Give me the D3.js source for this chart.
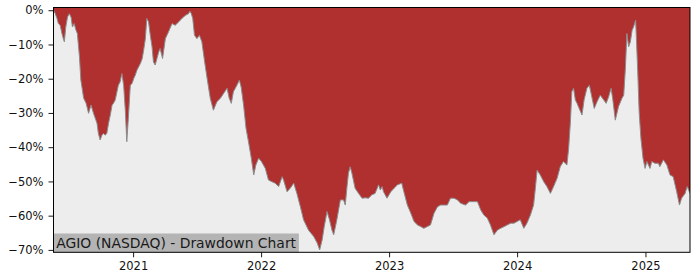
<!DOCTYPE html>
<html>
<head>
<meta charset="utf-8">
<script src="https://cdn.jsdelivr.net/npm/d3@7"></script>
<style>
  body { margin: 0; background: #fff; }
  svg { display: block; font-family: "DejaVu Sans", sans-serif; }
</style>
</head>
<body>
<svg id="chart" width="700" height="280"></svg>
<script>
const title = "AGIO (NASDAQ) - Drawdown Chart";

// drawdown from running peak, in percent
const dates = [
  "2020-05-19","2020-05-24","2020-05-29","2020-06-02","2020-06-07","2020-06-12","2020-06-17","2020-06-19",
  "2020-06-23","2020-06-28","2020-07-03","2020-07-08","2020-07-12","2020-07-17","2020-07-22","2020-07-26",
  "2020-08-01","2020-08-05","2020-08-13","2020-08-20","2020-08-27","2020-09-03","2020-09-10","2020-09-20",
  "2020-09-24","2020-09-29","2020-10-04","2020-10-09","2020-10-13","2020-10-18","2020-10-23","2020-10-28",
  "2020-11-02","2020-11-06","2020-11-11","2020-11-16","2020-11-20","2020-11-25","2020-11-30","2020-12-05",
  "2020-12-10","2020-12-14","2020-12-19","2020-12-24","2020-12-29",
  "2021-01-03","2021-01-07","2021-01-12","2021-01-17","2021-01-22","2021-01-27","2021-01-31","2021-02-05",
  "2021-02-09","2021-02-14","2021-02-19","2021-02-24","2021-02-28","2021-03-05","2021-03-15","2021-03-19",
  "2021-03-26","2021-04-03","2021-04-12","2021-04-22","2021-05-01","2021-05-11","2021-05-20","2021-05-30",
  "2021-06-08","2021-06-12","2021-06-16","2021-06-20","2021-06-25","2021-07-02","2021-07-09","2021-07-16",
  "2021-07-24","2021-07-31","2021-08-09","2021-08-18","2021-08-28","2021-09-07","2021-09-16","2021-09-26",
  "2021-10-02","2021-10-08","2021-10-14","2021-10-24","2021-10-31","2021-11-05","2021-11-12","2021-11-19",
  "2021-11-26","2021-12-04","2021-12-11","2021-12-17","2021-12-25",
  "2022-01-02","2022-01-13","2022-01-22","2022-02-01","2022-02-10","2022-02-20","2022-03-02","2022-03-06",
  "2022-03-16","2022-03-25","2022-04-04","2022-04-13","2022-04-23","2022-05-02","2022-05-16","2022-05-31",
  "2022-06-10","2022-06-17","2022-06-24","2022-06-30","2022-07-08","2022-07-15","2022-07-22","2022-07-27",
  "2022-08-05","2022-08-15","2022-08-24","2022-08-29","2022-09-03","2022-09-07","2022-09-12","2022-09-17",
  "2022-09-26","2022-10-06","2022-10-16","2022-10-25","2022-11-03","2022-11-13","2022-11-22","2022-12-02",
  "2022-12-07","2022-12-12","2022-12-16","2022-12-26",
  "2023-01-06","2023-01-15","2023-01-25","2023-02-06","2023-02-12","2023-02-22","2023-03-04","2023-03-13",
  "2023-03-23","2023-04-01","2023-04-10","2023-04-20","2023-04-29","2023-05-09","2023-05-19","2023-05-28",
  "2023-06-06","2023-06-16","2023-06-25","2023-07-05","2023-07-15","2023-07-24","2023-08-07","2023-08-17",
  "2023-08-27","2023-09-10","2023-09-19","2023-09-28","2023-10-08","2023-10-17","2023-10-27","2023-11-06",
  "2023-11-15","2023-11-25","2023-12-04","2023-12-14","2023-12-23",
  "2024-01-01","2024-01-10","2024-01-20","2024-01-29","2024-02-08","2024-02-17","2024-02-22","2024-02-27",
  "2024-03-07","2024-03-17","2024-03-26","2024-04-05","2024-04-14","2024-04-24","2024-05-03","2024-05-12",
  "2024-05-22","2024-05-27","2024-06-01","2024-06-05","2024-06-10","2024-06-15","2024-06-20","2024-06-24",
  "2024-07-04","2024-07-10","2024-07-18","2024-07-25","2024-08-01","2024-08-08","2024-08-16","2024-08-25",
  "2024-09-04","2024-09-11","2024-09-18","2024-09-25","2024-09-30","2024-10-07","2024-10-16","2024-10-26",
  "2024-10-31","2024-11-05","2024-11-09","2024-11-14","2024-11-19","2024-11-24","2024-11-28","2024-12-04",
  "2024-12-10","2024-12-14","2024-12-19","2024-12-25","2024-12-31",
  "2025-01-05","2025-01-14","2025-01-19","2025-01-28","2025-02-07","2025-02-11","2025-02-21","2025-03-03",
  "2025-03-12","2025-03-21","2025-03-31","2025-04-08","2025-04-14","2025-04-24","2025-04-30","2025-05-08"
];

const drawdown = [
  0.0, -1.0, -2.4, -3.9, -4.4, -6.8, -8.7, -9.2,
  -4.9, -2.0, -1.0, -2.0, -4.9, -3.9, -5.8, -6.8,
  -13.6, -20.4, -25.7, -27.2, -30.1, -27.7, -30.1, -33.0,
  -36.0, -37.9, -36.5, -36.0, -36.5, -36.0, -33.0, -30.6,
  -27.7, -27.2, -26.2, -23.8, -21.9, -20.9, -18.5, -21.9,
  -29.7, -38.4, -30.6, -21.9, -21.4,
  -19.9, -19.0, -17.5, -16.5, -15.5, -14.1, -11.7, -8.3,
  -2.4, -3.4, -7.3, -10.7, -15.1, -16.0, -12.2, -11.2,
  -14.1, -8.3, -6.3, -3.9, -4.4, -3.4, -2.4, -1.5,
  -1.0, -0.3, -1.0, -2.4, -7.3, -8.3, -7.3, -9.2,
  -15.1, -19.9, -25.7, -29.2, -26.7, -25.7, -24.3, -22.8,
  -25.7, -27.2, -23.8, -21.9, -20.4, -22.4, -27.7, -34.5,
  -38.4, -43.2, -48.1, -45.2, -43.2,
  -44.2, -46.2, -49.6, -50.1, -50.5, -51.5, -48.6, -49.6,
  -53.0, -52.0, -50.5, -53.5, -57.4, -61.2, -64.2, -66.1,
  -68.0, -70.0, -67.1, -63.2, -58.8, -61.2, -64.2, -65.6,
  -61.2, -55.4, -55.4, -56.9, -51.5, -47.6, -45.7, -47.6,
  -52.0, -53.5, -54.9, -54.8, -54.9, -53.9, -53.5, -51.0,
  -52.5, -51.5, -53.0, -54.9,
  -53.0, -52.0, -51.0, -50.5, -53.0, -56.9, -59.3, -61.7,
  -62.7, -63.2, -63.7, -63.2, -62.7, -59.3, -57.4, -56.9,
  -56.9, -56.9, -54.9, -54.9, -55.4, -56.4, -56.9, -55.9,
  -55.9, -55.9, -58.3, -59.8, -60.7, -62.7, -65.6, -64.2,
  -63.7, -63.2, -62.7, -62.2, -62.2,
  -61.7, -61.2, -63.7, -62.2, -59.8, -56.9, -52.0, -46.7,
  -48.1, -50.1, -51.5, -53.5, -51.5, -49.1, -45.7, -44.2,
  -45.2, -40.3, -32.6, -23.8, -22.8, -26.2, -27.2, -28.2,
  -30.6, -26.2, -22.8, -21.9, -25.3, -28.7, -26.7, -24.8,
  -26.2, -27.2, -25.3, -22.8, -26.2, -32.1, -28.2, -25.7,
  -24.8, -16.5, -6.8, -10.7, -9.2, -5.8, -4.9, -2.9,
  -18.0, -29.7, -37.4, -43.2, -46.2,
  -44.2, -46.2, -44.2, -44.7, -44.7, -45.7, -43.7, -45.2,
  -48.1, -48.6, -53.0, -56.9, -54.9, -53.5, -51.5, -53.5
];

const yTicks = [0, -10, -20, -30, -40, -50, -60, -70];
const xTickYears = [2021, 2022, 2023, 2024, 2025];

const width = 700;
const height = 280;
const margin = { top: 7.5, right: 10, bottom: 27.7, left: 53.5 };

const parse = d3.timeParse("%Y-%m-%d");
const data = dates.map((d, i) => ({ date: parse(d), value: drawdown[i] }));

const svg = d3.select("#chart");

const x = d3.scaleTime()
  .domain(d3.extent(data, d => d.date))
  .range([margin.left, width - margin.right]);

const y = d3.scaleLinear()
  .domain([-70.7, 0.8])
  .range([height - margin.bottom, margin.top]);

const plotW = width - margin.left - margin.right;
const plotH = height - margin.top - margin.bottom;

svg.append("defs").append("clipPath")
  .attr("id", "plot-clip")
  .append("rect")
  .attr("x", margin.left)
  .attr("y", margin.top)
  .attr("width", plotW)
  .attr("height", plotH);

// axes background
svg.append("rect")
  .attr("x", margin.left)
  .attr("y", margin.top)
  .attr("width", plotW)
  .attr("height", plotH)
  .attr("fill", "#ededed");

const plot = svg.append("g").attr("clip-path", "url(#plot-clip)");

const area = d3.area()
  .x(d => x(d.date))
  .y0(margin.top)
  .y1(d => y(d.value));

plot.append("path")
  .datum(data)
  .attr("d", area)
  .attr("fill", "#b03030");

const line = d3.line()
  .x(d => x(d.date))
  .y(d => y(d.value));

plot.append("path")
  .datum(data)
  .attr("d", line)
  .attr("fill", "none")
  .attr("stroke", "#8c8c8c")
  .attr("stroke-width", 1);

// title box in lower left corner
const label = svg.append("g");
const labelRect = label.append("rect")
  .attr("x", margin.left)
  .attr("y", 233.5)
  .attr("height", height - margin.bottom - 233.5)
  .attr("fill", "#b4b4b4");
const labelText = label.append("text")
  .attr("x", margin.left + 2.7)
  .attr("y", 247.6)
  .attr("font-size", "13.9px")
  .attr("fill", "#1a1a1a")
  .text(title);
labelRect.attr("width", labelText.node().getComputedTextLength() + 5.5);

// axes
const yAxis = svg.append("g")
  .attr("transform", `translate(${margin.left},0)`)
  .call(d3.axisLeft(y)
    .tickValues(yTicks)
    .tickSize(5)
    .tickPadding(5)
    .tickFormat(d => d3.format(".0%")(d / 100)));

const xAxis = svg.append("g")
  .attr("transform", `translate(0,${height - margin.bottom})`)
  .call(d3.axisBottom(x)
    .tickValues(xTickYears.map(yr => new Date(yr, 0, 1)))
    .tickSize(5)
    .tickPadding(5)
    .tickFormat(d3.timeFormat("%Y")));

[xAxis, yAxis].forEach(g => {
  g.select(".domain").remove();
  g.selectAll(".tick line").attr("stroke", "#000").attr("stroke-width", 0.9);
  g.selectAll(".tick text")
    .attr("font-size", "11.5px")
    .attr("font-family", "DejaVu Sans, sans-serif")
    .attr("fill", "#111");
});

// spines
svg.append("rect")
  .attr("x", margin.left)
  .attr("y", margin.top)
  .attr("width", plotW)
  .attr("height", plotH)
  .attr("fill", "none")
  .attr("stroke", "#000")
  .attr("stroke-width", 1);
</script>
</body>
</html>
